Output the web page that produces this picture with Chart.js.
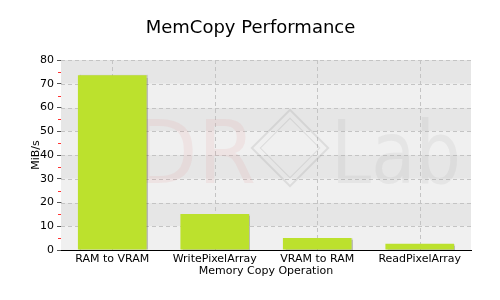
<!DOCTYPE html>
<html>
<head>
<meta charset="utf-8">
<title>MemCopy Performance</title>
<script src="https://cdn.jsdelivr.net/npm/chart.js"></script>
<style>
  html, body { margin: 0; padding: 0; background: #fff; }
  #wrap { width: 500px; height: 300px; }
</style>
</head>
<body>
<div id="wrap"><canvas id="memChart" width="500" height="300"></canvas></div>
<script>
const operations = ['RAM to VRAM', 'WritePixelArray', 'VRAM to RAM', 'ReadPixelArray'];
const speeds = [73.6, 15.2, 5.1, 2.6];
const yTicks = [0, 10, 20, 30, 40, 50, 60, 70, 80];

// draws text squeezed to a given width
function fitText(ctx, text, x, y, w) {
  const m = ctx.measureText(text).width;
  ctx.save();
  ctx.translate(x, y);
  ctx.scale(w / m, 1);
  ctx.fillText(text, 0, 0);
  ctx.restore();
}

// alternating horizontal bands, minor red ticks and the faint watermark
const backdrop = {
  id: 'backdrop',
  beforeDatasetsDraw(chart) {
    const { ctx, chartArea: a, scales: { y } } = chart;
    ctx.save();
    for (let i = 0; i < yTicks.length - 1; i++) {
      const top = y.getPixelForValue(yTicks[i + 1]);
      const bot = y.getPixelForValue(yTicks[i]);
      ctx.fillStyle = i % 2 === 0 ? '#f0f0f0' : '#e6e6e6';
      ctx.fillRect(a.left, top, a.right - a.left, bot - top);
    }
    // redraw the dashed grid on top of the bands
    ctx.strokeStyle = '#c4c4c4';
    ctx.lineWidth = 1;
    ctx.setLineDash([4, 3]);
    yTicks.slice(1).forEach(v => {
      const py = Math.round(y.getPixelForValue(v)) + 0.5;
      ctx.beginPath(); ctx.moveTo(a.left, py); ctx.lineTo(a.right, py); ctx.stroke();
    });
    operations.forEach((_, i) => {
      const px = Math.round(chart.scales.x.getPixelForValue(i)) + 0.5;
      ctx.beginPath(); ctx.moveTo(px, a.top); ctx.lineTo(px, a.bottom); ctx.stroke();
    });
    ctx.setLineDash([]);
    // watermark
    ctx.font = '88px "DejaVu Sans"';
    ctx.textBaseline = 'alphabetic';
    ctx.fillStyle = 'rgba(225, 120, 120, 0.10)';
    fitText(ctx, 'HDR', 70, 183, 186);
    ctx.fillStyle = 'rgba(140, 140, 140, 0.10)';
    fitText(ctx, 'Lab', 331, 183, 130);
    ctx.translate(290, 148);
    ctx.rotate(Math.PI / 4);
    ctx.strokeStyle = 'rgba(150, 150, 150, 0.22)';
    ctx.lineWidth = 2;
    ctx.strokeRect(-27, -27, 54, 54);
    ctx.lineWidth = 1;
    ctx.strokeRect(-21, -21, 42, 42);
    ctx.restore();
  },
  beforeDatasetDraw(chart) {
    const ctx = chart.ctx;
    ctx.save();
    ctx.shadowColor = 'rgba(0,0,0,0.22)';
    ctx.shadowOffsetX = 1;
    ctx.shadowOffsetY = 0;
    ctx.shadowBlur = 1;
  },
  afterDatasetDraw(chart) {
    chart.ctx.restore();
  },
  afterDraw(chart) {
    const { ctx, chartArea: a, scales: { y } } = chart;
    ctx.save();
    ctx.strokeStyle = '#ff3333';
    ctx.lineWidth = 1;
    for (let i = 0; i < yTicks.length - 1; i++) {
      const py = Math.round(y.getPixelForValue(yTicks[i] + 5)) + 0.5;
      ctx.beginPath();
      ctx.moveTo(a.left - 3, py);
      ctx.lineTo(a.left, py);
      ctx.stroke();
    }
    ctx.restore();
  }
};

new Chart(document.getElementById('memChart').getContext('2d'), {
  type: 'bar',
  data: {
    labels: operations,
    datasets: [{
      label: 'MiB/s',
      data: speeds,
      backgroundColor: '#bce12d',
      borderWidth: 0,
      categoryPercentage: 1,
      barPercentage: 0.67
    }]
  },
  plugins: [backdrop],
  options: {
    responsive: false,
    animation: false,
    layout: { padding: { left: 30, right: 29, top: 0, bottom: 22 } },
    plugins: {
      legend: { display: false },
      tooltip: { enabled: false },
      title: {
        display: true,
        text: 'MemCopy Performance',
        color: '#000',
        font: { family: '"DejaVu Sans"', size: 18, weight: 'normal', lineHeight: 1.2 },
        padding: { top: 18, bottom: 20.4 }
      }
    },
    scales: {
      x: {
        offset: true,
        grid: {
          offset: false,
          color: 'rgba(0,0,0,0)',
          drawTicks: false,
          tickLength: 0
        },
        border: { display: true, color: '#000', width: 1 },
        ticks: { color: '#000', font: { family: '"DejaVu Sans"', size: 11 }, padding: 3, maxRotation: 0 },
        title: {
          display: true,
          text: 'Memory Copy Operation',
          color: '#000',
          font: { family: '"DejaVu Sans"', size: 11 },
          padding: { top: 0, bottom: 0 }
        },
        afterFit(scale) { scale.height = 28; }
      },
      y: {
        min: 0,
        max: 80,
        afterBuildTicks(scale) { scale.ticks = yTicks.map(v => ({ value: v })); },
        grid: {
          color: 'rgba(0,0,0,0)',
          tickColor: '#555',
          tickLength: 4,
          tickBorderDash: []
        },
        border: { display: true, color: '#000', width: 1 },
        ticks: { color: '#000', font: { family: '"DejaVu Sans"', size: 11 }, padding: 3 },
        title: {
          display: true,
          text: 'MiB/s',
          color: '#000',
          font: { family: '"DejaVu Sans"', size: 11 },
          padding: { top: 0, bottom: 0 }
        },
        afterFit(scale) { scale.width = 31; }
      }
    }
  }
});
</script>
</body>
</html>
